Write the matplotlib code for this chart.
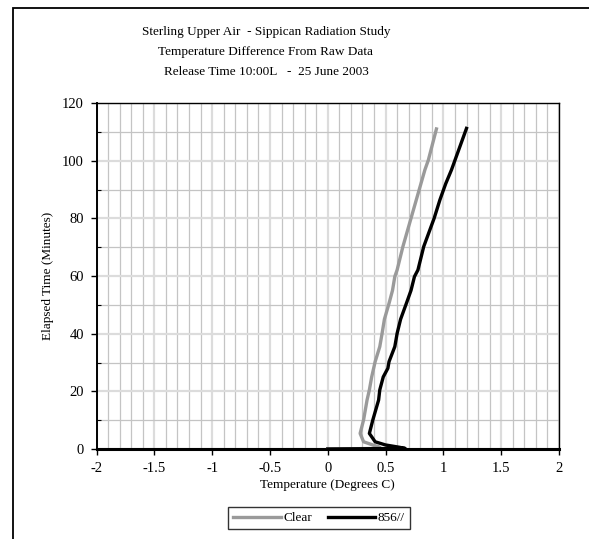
import matplotlib
matplotlib.use("Agg")
import matplotlib.pyplot as plt
from matplotlib.patches import Rectangle
from matplotlib.ticker import MultipleLocator

plt.rcParams['font.family'] = ['Liberation Serif', 'DejaVu Serif']

# data
clear_time = [0, 0.2, 0.8, 1.4, 2.5, 5.4, 10.1, 17.0, 20.5, 25.0, 30.3, 35.5,
              40.1, 45.0, 50.5, 55.0, 59.8, 62.1, 70.2, 80.0, 89.8, 96.8, 100.2, 111.0]
clear_temp = [0.0, 0.46, 0.44, 0.39, 0.31, 0.28, 0.31, 0.34, 0.36, 0.38, 0.41, 0.45,
              0.47, 0.49, 0.53, 0.56, 0.58, 0.60, 0.65, 0.72, 0.79, 0.84, 0.87, 0.94]

black_time = [0, 0.2, 0.6, 1.4, 2.5, 5.4, 10.1, 17.0, 20.5, 25.0, 28.0, 30.3, 35.5,
              40.1, 45.0, 50.5, 55.0, 59.8, 62.1, 70.2, 80.0, 86.4, 92.0, 96.8, 111.2]
black_temp = [0.0, 0.67, 0.62, 0.50, 0.41, 0.36, 0.39, 0.44, 0.45, 0.48, 0.52, 0.53, 0.58,
              0.60, 0.63, 0.68, 0.72, 0.75, 0.78, 0.83, 0.92, 0.97, 1.02, 1.07, 1.20]

series_names = ['Clear', '856//']
title_lines = ['Sterling Upper Air  - Sippican Radiation Study',
               'Temperature Difference From Raw Data',
               'Release Time 10:00L   -  25 June 2003']

W, H = 589, 539
fig = plt.figure(figsize=(W / 100, H / 100), dpi=100)

# chart area frame (runs off right and bottom edges)
fig.patches.append(Rectangle((13 / W, -0.1), 1.2, 1 - 8 / H + 0.1,
                             transform=fig.transFigure, fill=False,
                             edgecolor='black', linewidth=1.3))

ax = fig.add_axes([96.5 / W, 1 - 449 / H, (559 - 96.5) / W, (449 - 103) / H])

ax.plot(clear_temp, clear_time, color='#9a9a9a', linewidth=2.4, label=series_names[0],
        solid_joinstyle='round', zorder=3)
ax.plot(black_temp, black_time, color='black', linewidth=2.4, label=series_names[1],
        solid_joinstyle='round', zorder=4)

ax.set_xlim(-2, 2)
ax.set_ylim(0, 120)
ax.xaxis.set_major_locator(MultipleLocator(0.5))
ax.xaxis.set_minor_locator(MultipleLocator(0.1))
ax.yaxis.set_major_locator(MultipleLocator(20))
ax.yaxis.set_minor_locator(MultipleLocator(10))
ax.set_xticks([-2, -1.5, -1, -0.5, 0, 0.5, 1, 1.5, 2])
ax.set_xticklabels(['-2', '-1.5', '-1', '-0.5', '0', '0.5', '1', '1.5', '2'])

ax.grid(which='minor', color='#c4c4c4', linewidth=0.9)
ax.grid(which='major', color='#dcdcdc', linewidth=1.6)
ax.set_axisbelow(True)

ax.tick_params(which='major', direction='out', length=4, width=1, labelsize=10.5, pad=5)
ax.tick_params(which='minor', direction='in', length=3, width=0.8)
ax.tick_params(axis='x', which='minor', length=0)

for side in ['top', 'right']:
    ax.spines[side].set_linewidth(1.0)
ax.spines['left'].set_linewidth(1.4)
ax.spines['bottom'].set_linewidth(2.2)

ax.set_xlabel('Temperature (Degrees C)', fontsize=9.5, labelpad=3)
ax.set_ylabel('Elapsed Time (Minutes)', fontsize=9.5, labelpad=6)

for i, line in enumerate(title_lines):
    fig.text(266 / W, 1 - (32 + 20 * i) / H, line, ha='center', va='center', fontsize=9.5)

leg = fig.legend(loc='center', bbox_to_anchor=(319 / W, 1 - 518 / H), ncol=2,
                 fontsize=9.5, frameon=True, fancybox=False, handlelength=3.6,
                 handletextpad=0.2, columnspacing=1.2, borderpad=0.35)
leg.get_frame().set_edgecolor('black')
leg.get_frame().set_linewidth(1.0)

fig.savefig('out.png', dpi=100)
